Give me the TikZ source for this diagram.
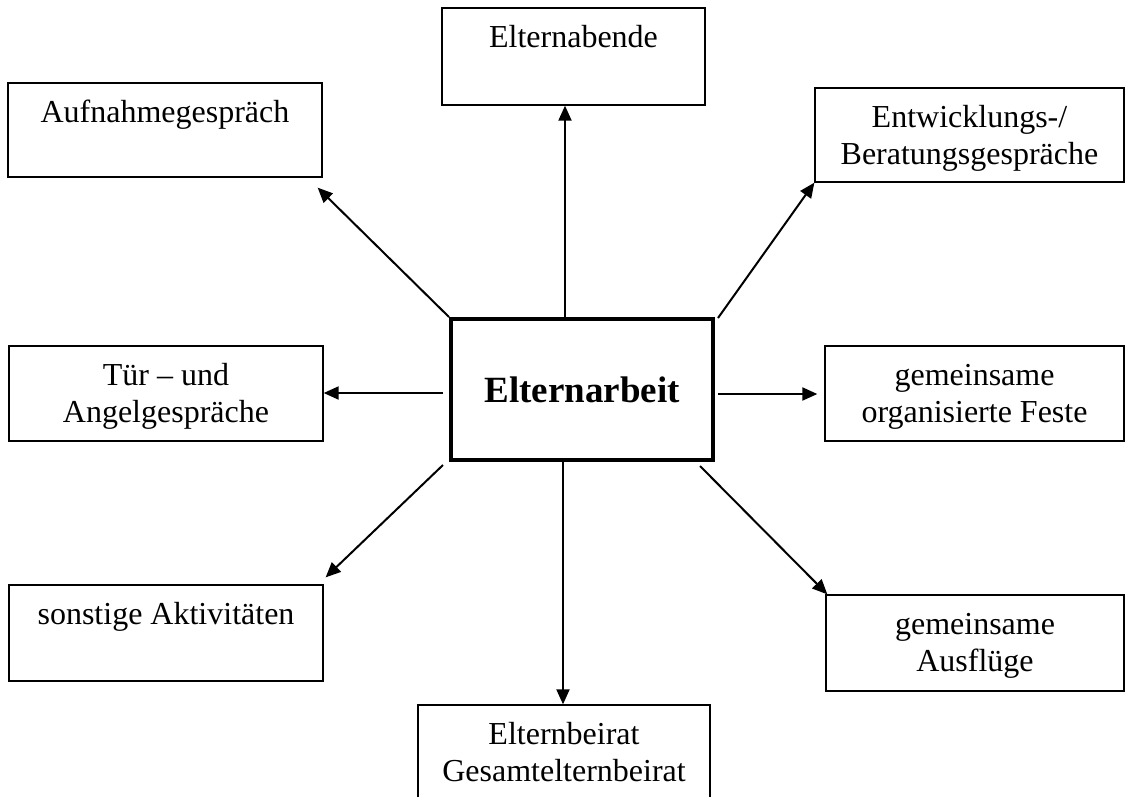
\documentclass[tikz,border=0pt]{standalone}
\usepackage{fontspec}
\setmainfont{Liberation Serif}
\usetikzlibrary{arrows.meta}
\begin{document}
\begin{tikzpicture}[x=1pt,y=-1pt,
  box/.style={draw, line width=1.3pt, rectangle, inner sep=0pt},
  lbl/.style={anchor=north, inner sep=0pt, align=center, font=\fontsize{32}{36.5}\selectfont},
  arr/.style={line width=2pt, -{Triangle[length=15pt,width=13pt]}}]
\useasboundingbox (0,0) rectangle (1127,796);
\clip (0,0) rectangle (1127,796);
% boxes
\node[box, minimum width=263pt, minimum height=97pt] (ab) at (573.5,56.5) {};
\node[box, minimum width=314pt, minimum height=94pt] (auf) at (165,130) {};
\node[box, minimum width=309pt, minimum height=94pt] (ent) at (969.5,135) {};
\node[box, minimum width=314pt, minimum height=95pt] (tuer) at (166,393.5) {};
\node[box, minimum width=299pt, minimum height=95pt] (fest) at (974.5,393.5) {};
\node[box, minimum width=314pt, minimum height=96pt] (son) at (166,633) {};
\node[box, minimum width=298pt, minimum height=96pt] (aus) at (975,643) {};
\node[box, minimum width=292pt, minimum height=95pt] (beir) at (564,752.5) {};
% labels
\node[lbl] (tab) at ([yshift=-14.8pt]ab.north) {\strut Elternabende};
\node[lbl] (tauf) at ([yshift=-14.8pt]auf.north) {\strut Aufnahmegespräch};
\node[lbl] (tent) at ([yshift=-14.8pt]ent.north) {\strut Entwicklungs-/\\Beratungsgespräche};
\node[lbl] (ttuer) at ([yshift=-14.8pt]tuer.north) {\strut Tür – und\\Angelgespräche};
\node[lbl] (tfest) at ([yshift=-14.8pt]fest.north) {\strut gemeinsame\\organisierte Feste};
\node[lbl] (tson) at ([yshift=-14.8pt]son.north) {\strut sonstige Aktivitäten};
\node[lbl] (taus) at ([yshift=-14.8pt]aus.north) {\strut gemeinsame\\Ausflüge};
\node[lbl] (tbeir) at ([yshift=-14.8pt]beir.north) {\strut Elternbeirat\\Gesamtelternbeirat};
% centre
\node[draw, line width=4pt, minimum width=262pt, minimum height=141pt, inner sep=0pt,
      font=\bfseries\fontsize{37}{42}\selectfont] (c) at (582,389.5) {Elternarbeit};
% connectors
\coordinate (ux) at (565,0);
\coordinate (dx) at (563,0);
\draw[arr] (c.north -| ux) -- (ab.south -| ux);
\draw[arr] (c.north west) -- ([shift={(-5,10)}]auf.south east);
\draw[arr] ([shift={(3,1)}]c.north east) -- (ent.south west);
\draw[arr] ([shift={(-6,3.5)}]c.west) -- (tuer.east |- 0,393);
\draw[arr] ([shift={(3,4.5)}]c.east) -- ([shift={(-7,0.5)}]fest.west);
\draw[arr] ([shift={(-6,3)}]c.south west) -- ([shift={(2,-7)}]son.north east);
\draw[arr] ([shift={(-15,4)}]c.south east) -- ([shift={(2,0)}]aus.north west);
\draw[arr] (c.south -| dx) -- (beir.north -| dx);
\end{tikzpicture}
\end{document}
